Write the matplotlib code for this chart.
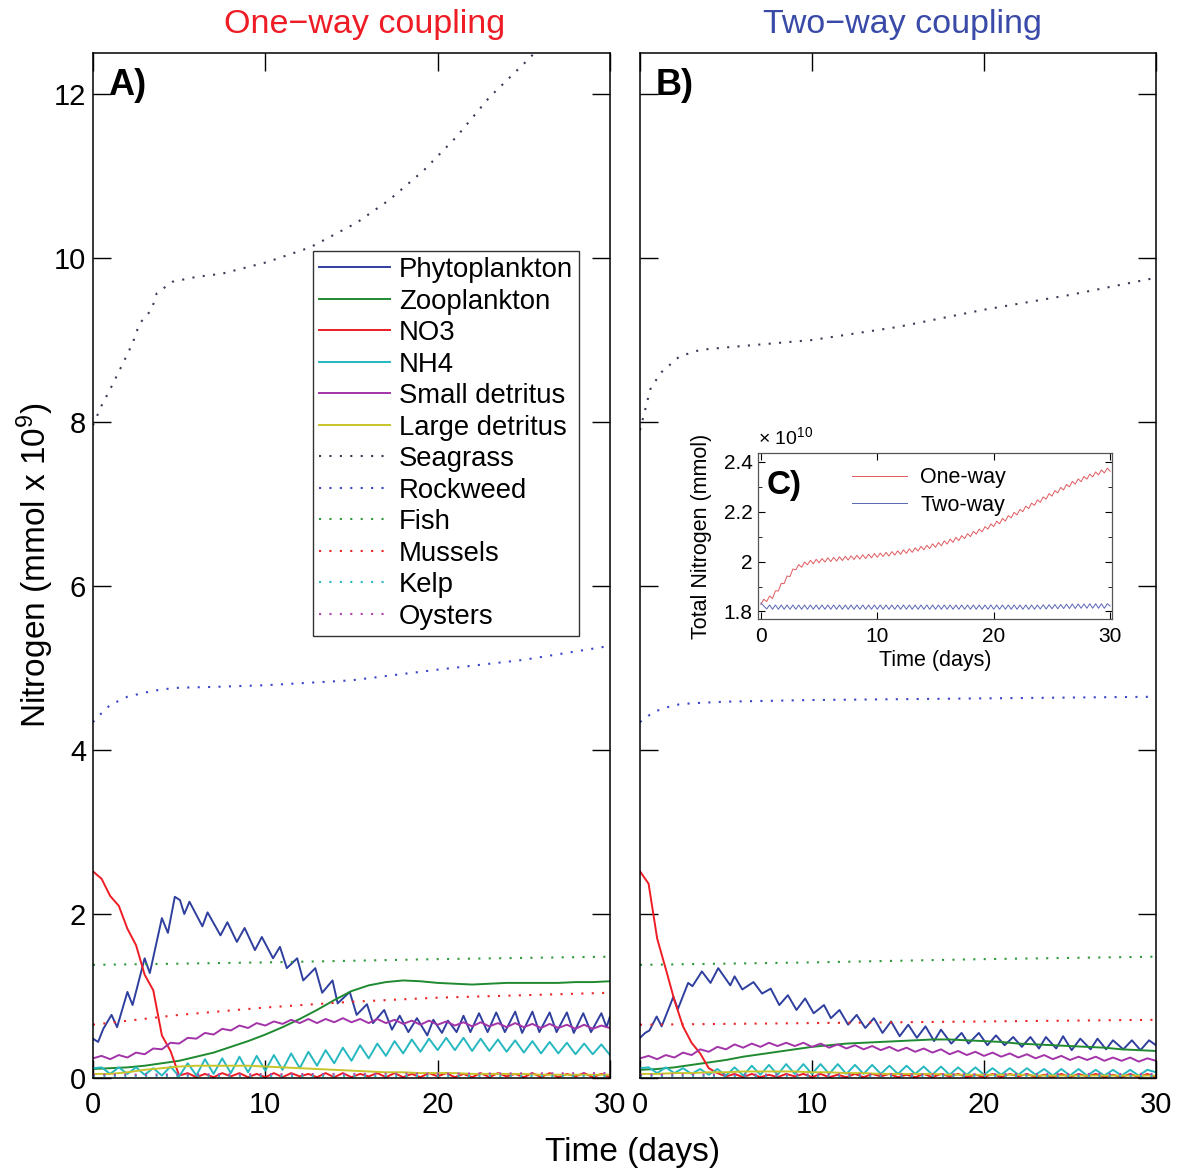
import numpy as np
import matplotlib
matplotlib.use("Agg")
import matplotlib.pyplot as plt

plt.rcParams['font.family'] = ['Liberation Sans', 'DejaVu Sans']
plt.rcParams['mathtext.fontset'] = 'custom'
plt.rcParams['mathtext.rm'] = 'Liberation Sans'
plt.rcParams['mathtext.it'] = 'Liberation Sans:italic'

# ---- time grids ----
t_half = np.arange(0, 30.5, 0.5)     # half-day samples
t_day = np.arange(0, 31, 1.0)        # daily samples
t_quarter = np.arange(0, 30.25, 0.25)  # inset samples

# ---- panel A : one-way coupling ----
phyto_a_t = [0, 0.3, 0.6, 1.08, 1.4, 2.0, 2.3, 3.0, 3.3, 4.0, 4.35, 4.75, 5.05, 5.3, 5.6,
             6.35, 6.65, 7.4, 7.8, 8.35, 8.8, 9.4, 9.8, 10.45, 10.85, 11.25, 11.85, 12.2,
             12.9, 13.3, 13.9, 14.2, 14.9, 15.3, 15.9, 16.25, 16.9, 17.35, 17.8, 18.3, 18.8,
             19.4, 19.75, 20.25, 20.6, 21.1, 21.5, 21.9, 22.4, 22.9, 23.4, 23.9, 24.5, 24.9,
             25.5, 25.9, 26.5, 26.9, 27.5, 27.9, 28.45, 28.9, 29.5, 29.8, 30]
phyto_a = [0.48, 0.44, 0.60, 0.77, 0.62, 1.05, 0.89, 1.46, 1.28, 1.95, 1.77, 2.21, 2.17, 2.00, 2.15,
           1.85, 2.02, 1.74, 1.90, 1.66, 1.83, 1.56, 1.72, 1.46, 1.60, 1.34, 1.46, 1.19,
           1.34, 1.04, 1.19, 0.91, 1.05, 0.77, 0.90, 0.67, 0.83, 0.59, 0.76, 0.56, 0.73,
           0.52, 0.71, 0.55, 0.70, 0.56, 0.76, 0.56, 0.79, 0.56, 0.80, 0.56, 0.81, 0.55,
           0.81, 0.56, 0.80, 0.56, 0.80, 0.55, 0.79, 0.56, 0.79, 0.62, 0.75]
zoo_a = [0.11, 0.12, 0.13, 0.15, 0.18, 0.21, 0.26, 0.31, 0.38, 0.45, 0.53, 0.62, 0.72, 0.83, 0.95, 1.06,
         1.13, 1.17, 1.19, 1.18, 1.16, 1.15, 1.14, 1.15, 1.16, 1.16, 1.16, 1.16, 1.17, 1.17, 1.18]
no3_a = [2.52, 2.43, 2.22, 2.10, 1.82, 1.62, 1.26, 1.07, 0.52, 0.33, 0.03,
         0.06, 0.01, 0.05, 0.01, 0.06, 0.02, 0.06, 0.01, 0.05, 0.01, 0.06, 0.01, 0.06, 0.02,
         0.05, 0.01, 0.06, 0.01, 0.06, 0.01, 0.05, 0.02, 0.06, 0.01, 0.06, 0.01, 0.05, 0.01,
         0.06, 0.02, 0.06, 0.01, 0.05, 0.01, 0.06, 0.01, 0.06, 0.02, 0.05, 0.01, 0.06, 0.01,
         0.06, 0.01, 0.05, 0.02, 0.06, 0.01, 0.05, 0.01]
nh4_a = [0.12, 0.13, 0.05, 0.13, 0.05, 0.13, 0.04, 0.12, 0.03, 0.14,
         0.02, 0.18, 0.03, 0.23, 0.05, 0.24, 0.06, 0.26, 0.07, 0.27,
         0.09, 0.28, 0.10, 0.30, 0.12, 0.32, 0.15, 0.34, 0.18, 0.37,
         0.21, 0.40, 0.24, 0.42, 0.27, 0.45, 0.30, 0.47, 0.32, 0.48,
         0.34, 0.49, 0.34, 0.49, 0.33, 0.48, 0.33, 0.47, 0.32, 0.46,
         0.31, 0.45, 0.30, 0.44, 0.30, 0.43, 0.29, 0.42, 0.29, 0.41,
         0.28]
sdet_a = [0.24, 0.27, 0.23, 0.28, 0.25, 0.31, 0.29, 0.36, 0.35, 0.43,
          0.42, 0.49, 0.48, 0.55, 0.53, 0.60, 0.58, 0.64, 0.61, 0.67,
          0.64, 0.69, 0.66, 0.71, 0.67, 0.72, 0.67, 0.72, 0.68, 0.73,
          0.68, 0.72, 0.67, 0.72, 0.67, 0.71, 0.66, 0.70, 0.65, 0.70,
          0.65, 0.69, 0.64, 0.68, 0.63, 0.68, 0.63, 0.67, 0.62, 0.67,
          0.62, 0.66, 0.61, 0.66, 0.61, 0.65, 0.60, 0.65, 0.60, 0.64,
          0.61]
ldet_a = [0.05, 0.05, 0.07, 0.10, 0.12, 0.14, 0.15, 0.15, 0.15, 0.15, 0.14, 0.13, 0.12, 0.11, 0.10, 0.09,
          0.08, 0.07, 0.07, 0.06, 0.06, 0.06, 0.05, 0.05, 0.05, 0.05, 0.04, 0.04, 0.04, 0.04, 0.04]
seagrass_a_t = [0, 0.5, 1, 1.75, 2.3, 2.7, 3.4, 3.7, 4.6, 6, 7.5, 10.1, 12.6, 15.3, 17.2, 19.2,
                21.1, 23, 25.2, 27, 30]
seagrass_a = [7.96, 8.2, 8.4, 8.72, 8.96, 9.2, 9.37, 9.57, 9.71, 9.77, 9.81, 9.95, 10.13, 10.43,
              10.71, 11.07, 11.48, 11.96, 12.41, 12.8, 13.5]
rockweed_a_t = [0, 0.5, 1, 2, 3, 4, 5, 7, 10, 15, 20, 25, 30]
rockweed_a = [4.34, 4.45, 4.55, 4.65, 4.70, 4.74, 4.76, 4.77, 4.79, 4.85, 4.98, 5.10, 5.27]
fish_a_t = [0, 10, 20, 30]
fish_a = [1.38, 1.41, 1.45, 1.48]
mussels_a_t = [0, 5, 10, 15, 20, 25, 30]
mussels_a = [0.65, 0.77, 0.86, 0.93, 0.98, 1.01, 1.04]
kelp_a_t = [0, 30]
kelp_a = [0.02, 0.02]
oysters_a_t = [0, 30]
oysters_a = [0.04, 0.06]

# ---- panel B : two-way coupling ----
phyto_b_t = [0, 0.3, 0.55, 0.97, 1.26, 1.94, 2.2, 2.8, 3.05, 3.6, 4.1, 4.55, 5.25, 5.5, 5.95,
             6.6, 7.1, 7.6, 8.1, 8.6, 9.1, 9.6, 10.1, 10.7, 11.1, 11.6, 12.1, 12.6, 13.1, 13.6,
             14.1, 14.6, 15.1, 15.6, 16.1, 16.6, 17.1, 17.5, 18.1, 18.7, 19.1, 19.7, 20.2, 20.7,
             21.2, 21.7, 22.2, 22.7, 23.2, 23.6, 24.2, 24.6, 25.1, 25.6, 26.2, 26.6, 27.1, 27.5,
             28.1, 28.6, 29.1, 29.6, 30]
phyto_b = [0.49, 0.55, 0.58, 0.75, 0.63, 0.99, 0.84, 1.16, 1.12, 1.30, 1.16, 1.34, 1.13, 1.24, 1.08,
           1.17, 1.03, 1.09, 0.89, 1.01, 0.83, 0.97, 0.79, 0.89, 0.73, 0.83, 0.65, 0.77, 0.61, 0.73,
           0.55, 0.69, 0.51, 0.65, 0.49, 0.63, 0.45, 0.59, 0.42, 0.55, 0.42, 0.55, 0.40, 0.52,
           0.40, 0.50, 0.38, 0.50, 0.36, 0.50, 0.36, 0.51, 0.34, 0.48, 0.35, 0.48, 0.35, 0.46,
           0.35, 0.46, 0.34, 0.46, 0.40]
zoo_b = [0.10, 0.11, 0.13, 0.16, 0.19, 0.22, 0.26, 0.29, 0.32, 0.35, 0.38, 0.40, 0.42, 0.43, 0.44, 0.45,
         0.46, 0.47, 0.47, 0.46, 0.45, 0.44, 0.42, 0.41, 0.40, 0.39, 0.38, 0.37, 0.35, 0.34, 0.33]
no3_b = [2.52, 2.37, 1.70, 1.33, 0.95, 0.63, 0.43, 0.30, 0.12, 0.06, 0.02,
         0.05, 0.01, 0.05, 0.01, 0.04, 0.01, 0.05, 0.02, 0.05, 0.01, 0.05, 0.01, 0.04, 0.01,
         0.05, 0.01, 0.05, 0.02, 0.05, 0.01, 0.04, 0.01, 0.05, 0.01, 0.05, 0.02, 0.05, 0.01,
         0.04, 0.01, 0.05, 0.01, 0.05, 0.02, 0.05, 0.01, 0.04, 0.01, 0.05, 0.01, 0.05, 0.02,
         0.05, 0.01, 0.04, 0.01, 0.05, 0.01, 0.05, 0.01]
nh4_b = [0.12, 0.13, 0.06, 0.13, 0.06, 0.12, 0.05, 0.11, 0.04, 0.11,
         0.03, 0.13, 0.03, 0.15, 0.04, 0.16, 0.04, 0.17, 0.05, 0.17,
         0.05, 0.17, 0.05, 0.17, 0.05, 0.16, 0.05, 0.16, 0.05, 0.15,
         0.05, 0.15, 0.05, 0.14, 0.04, 0.14, 0.04, 0.13, 0.04, 0.13,
         0.04, 0.12, 0.04, 0.12, 0.04, 0.12, 0.04, 0.11, 0.03, 0.11,
         0.03, 0.11, 0.03, 0.10, 0.03, 0.10, 0.03, 0.10, 0.03, 0.10,
         0.07]
sdet_b = [0.24, 0.27, 0.23, 0.28, 0.25, 0.31, 0.28, 0.35, 0.32, 0.38,
          0.35, 0.41, 0.37, 0.42, 0.38, 0.43, 0.39, 0.43, 0.39, 0.43,
          0.38, 0.42, 0.37, 0.41, 0.36, 0.40, 0.35, 0.39, 0.34, 0.38,
          0.33, 0.37, 0.32, 0.36, 0.31, 0.35, 0.29, 0.33, 0.28, 0.32,
          0.27, 0.31, 0.26, 0.30, 0.25, 0.29, 0.24, 0.28, 0.23, 0.27,
          0.22, 0.26, 0.22, 0.26, 0.21, 0.25, 0.21, 0.25, 0.20, 0.24,
          0.21]
ldet_b = [0.05, 0.05, 0.06, 0.06, 0.07, 0.07, 0.08, 0.08, 0.08, 0.08, 0.07, 0.07, 0.06, 0.06, 0.05, 0.05,
          0.05, 0.05, 0.04, 0.04, 0.04, 0.04, 0.04, 0.03, 0.03, 0.03, 0.03, 0.03, 0.03, 0.03, 0.03]
seagrass_b_t = [0, 0.3, 0.6, 1.2, 2.3, 3.5, 5, 10, 15, 20, 25, 30]
seagrass_b = [7.9, 8.15, 8.4, 8.6, 8.8, 8.88, 8.91, 9.0, 9.16, 9.37, 9.55, 9.76]
rockweed_b_t = [0, 0.5, 1, 2, 3, 5, 10, 15, 20, 25, 30]
rockweed_b = [4.34, 4.42, 4.48, 4.55, 4.57, 4.59, 4.61, 4.62, 4.63, 4.64, 4.65]
fish_b_t = [0, 10, 20, 30]
fish_b = [1.38, 1.41, 1.45, 1.48]
mussels_b_t = [0, 10, 20, 30]
mussels_b = [0.65, 0.67, 0.69, 0.71]
kelp_b_t = [0, 30]
kelp_b = [0.02, 0.02]
oysters_b_t = [0, 30]
oysters_b = [0.04, 0.05]

# ---- inset C : total nitrogen (x 1e10 mmol) ----
total_one_way = [1.828, 1.849, 1.840, 1.862, 1.852, 1.883, 1.882, 1.913, 1.912, 1.942, 1.940, 1.970,
                 1.967, 1.988, 1.977, 1.998, 1.987, 2.005, 1.991, 2.009, 1.995, 2.012, 1.998, 2.015,
                 2.000, 2.017, 2.002, 2.019, 2.004, 2.021, 2.006, 2.023, 2.008, 2.025, 2.010, 2.027,
                 2.012, 2.029, 2.015, 2.032, 2.017, 2.034, 2.020, 2.037, 2.022, 2.040, 2.026, 2.043,
                 2.029, 2.047, 2.033, 2.051, 2.037, 2.055, 2.042, 2.061, 2.047, 2.065, 2.052, 2.071,
                 2.057, 2.076, 2.063, 2.083, 2.070, 2.090, 2.077, 2.097, 2.084, 2.104, 2.092, 2.112,
                 2.100, 2.121, 2.110, 2.130, 2.119, 2.140, 2.130, 2.151, 2.140, 2.162, 2.151, 2.173,
                 2.162, 2.184, 2.175, 2.197, 2.187, 2.209, 2.200, 2.222, 2.212, 2.234, 2.225, 2.247,
                 2.237, 2.259, 2.250, 2.272, 2.262, 2.284, 2.275, 2.297, 2.287, 2.309, 2.299, 2.321,
                 2.310, 2.331, 2.320, 2.341, 2.330, 2.350, 2.339, 2.359, 2.347, 2.367, 2.355, 2.374,
                 2.362]
total_two_way = [1.834, 1.822, 1.810, 1.826, 1.809, 1.826, 1.809, 1.826, 1.809, 1.826, 1.809, 1.826,
                 1.809, 1.826, 1.809, 1.826, 1.809, 1.826, 1.809, 1.826, 1.809, 1.826, 1.809, 1.826,
                 1.809, 1.826, 1.809, 1.826, 1.809, 1.826, 1.809, 1.826, 1.809, 1.826, 1.809, 1.826,
                 1.809, 1.826, 1.809, 1.826, 1.809, 1.826, 1.809, 1.826, 1.809, 1.826, 1.809, 1.826,
                 1.809, 1.826, 1.809, 1.826, 1.809, 1.826, 1.809, 1.826, 1.809, 1.826, 1.809, 1.826,
                 1.809, 1.826, 1.809, 1.826, 1.809, 1.826, 1.809, 1.826, 1.809, 1.826, 1.809, 1.826,
                 1.809, 1.826, 1.809, 1.826, 1.809, 1.826, 1.809, 1.826, 1.809, 1.826, 1.809, 1.826,
                 1.809, 1.826, 1.809, 1.826, 1.809, 1.826, 1.809, 1.826, 1.809, 1.826, 1.809, 1.826,
                 1.810, 1.827, 1.810, 1.827, 1.811, 1.828, 1.811, 1.828, 1.812, 1.829, 1.812, 1.830,
                 1.812, 1.830, 1.813, 1.830, 1.813, 1.831, 1.813, 1.831, 1.813, 1.831, 1.813, 1.831,
                 1.822]

labels = ['Phytoplankton', 'Zooplankton', 'NO3', 'NH4', 'Small detritus', 'Large detritus',
          'Seagrass', 'Rockweed', 'Fish', 'Mussels', 'Kelp', 'Oysters']
colors = ['#2f3f9e', '#1f8a30', '#ee1c24', '#26b8c0', '#a233a8', '#c8c42a',
          '#3a3a55', '#3a46c8', '#2f9a3c', '#ee2424', '#2ab8c0', '#b044b0']
DOT = (0, (1, 4))


def draw_panel(ax, solid, dotted):
    # solid state variables
    for (t, y), lab, c in zip(solid, labels[:6], colors[:6]):
        ax.plot(t, y, color=c, lw=1.4, label=lab)
    for (t, y), lab, c in zip(dotted, labels[6:], colors[6:]):
        ax.plot(t, y, color=c, lw=1.5, ls=DOT, label=lab)
    ax.set_xlim(0, 30)
    ax.set_ylim(0, 12.5)
    ax.set_xticks([0, 10, 20, 30])
    ax.set_yticks([0, 2, 4, 6, 8, 10, 12])
    ax.tick_params(direction='in', length=13, width=1, top=True, right=True,
                   labelsize=21)
    ax.tick_params(axis='y', pad=5)
    ax.tick_params(axis='x', pad=9)
    for s in ax.spines.values():
        s.set_linewidth(1.1)


fig = plt.figure(figsize=(11.81, 11.71), dpi=100)
axA = fig.add_axes([0.0787, 0.0794, 0.4378, 0.8753])
axB = fig.add_axes([0.5419, 0.0794, 0.4369, 0.8753])

draw_panel(axA,
           [(phyto_a_t, phyto_a), (t_day, zoo_a), (t_half, no3_a), (t_half, nh4_a),
            (t_half, sdet_a), (t_day, ldet_a)],
           [(seagrass_a_t, seagrass_a), (rockweed_a_t, rockweed_a), (fish_a_t, fish_a),
            (mussels_a_t, mussels_a), (kelp_a_t, kelp_a), (oysters_a_t, oysters_a)])
draw_panel(axB,
           [(phyto_b_t, phyto_b), (t_day, zoo_b), (t_half, no3_b), (t_half, nh4_b),
            (t_half, sdet_b), (t_day, ldet_b)],
           [(seagrass_b_t, seagrass_b), (rockweed_b_t, rockweed_b), (fish_b_t, fish_b),
            (mussels_b_t, mussels_b), (kelp_b_t, kelp_b), (oysters_b_t, oysters_b)])
axB.tick_params(labelleft=False)

axA.text(0.03, 0.985, 'A)', transform=axA.transAxes, ha='left', va='top',
         fontsize=26, fontweight='bold')
axB.text(0.03, 0.985, 'B)', transform=axB.transAxes, ha='left', va='top',
         fontsize=26, fontweight='bold')

leg = axA.legend(loc='upper left', bbox_to_anchor=(0.4255, 0.8068), borderaxespad=0,
                 fontsize=19.8, handlelength=2.6, handletextpad=0.3, labelspacing=0.2,
                 borderpad=0.22, frameon=True, fancybox=False, edgecolor='black')
leg.get_frame().set_linewidth(1.0)

fig.text(365 / 1181, 1 - 24 / 1171, 'One\u2212way coupling', color='#ee1c24',
         fontsize=24.5, ha='center', va='center')
fig.text(902 / 1181, 1 - 24 / 1171, 'Two\u2212way coupling', color='#3a4aa8',
         fontsize=24.5, ha='center', va='center')
fig.text(633 / 1181, 1 - 1152 / 1171, 'Time (days)', fontsize=24, ha='center', va='center')
fig.text(35 / 1181, 1 - 565 / 1171, 'Nitrogen (mmol x 10$^{9}$)', fontsize=24,
         ha='center', va='center', rotation=90)

# inset C
axC = fig.add_axes([0.6418, 0.4714, 0.2997, 0.1418])
axC.plot(t_quarter, total_one_way, color='#e05a5e', lw=0.7, label='One-way')
axC.plot(t_quarter, total_two_way, color='#5a64b4', lw=0.7, label='Two-way')
axC.set_xlim(-0.25, 30.15)
axC.set_ylim(1.77, 2.435)
axC.set_xticks([0, 10, 20, 30])
axC.set_yticks([1.8, 2.0, 2.2, 2.4])
axC.set_yticklabels(['1.8', '2', '2.2', '2.4'])
axC.set_yticks([1.9, 2.1, 2.3], minor=True)
axC.tick_params(which='both', direction='in', top=True, right=True, labelsize=15)
axC.tick_params(axis='x', pad=6)
axC.tick_params(axis='y', pad=4)
axC.tick_params(which='major', length=5)
axC.tick_params(which='minor', length=3)
for s in axC.spines.values():
    s.set_color('#555555')
    s.set_linewidth(0.9)
axC.set_xlabel('Time (days)', fontsize=15.5, labelpad=3)
axC.set_ylabel('Total Nitrogen (mmol)', fontsize=15.5, labelpad=8)
axC.text(0.0, 1.03, '\u00d7 10$^{10}$', transform=axC.transAxes, fontsize=14,
         ha='left', va='bottom')
axC.text(0.025, 0.9, 'C)', transform=axC.transAxes, ha='left', va='top',
         fontsize=24, fontweight='bold')
axC.legend(loc='upper left', bbox_to_anchor=(0.24, 0.965), frameon=False, fontsize=15.5,
           handlelength=2.6, handletextpad=0.6, labelspacing=0.3, borderaxespad=0)

fig.savefig('out.png', dpi=100)
